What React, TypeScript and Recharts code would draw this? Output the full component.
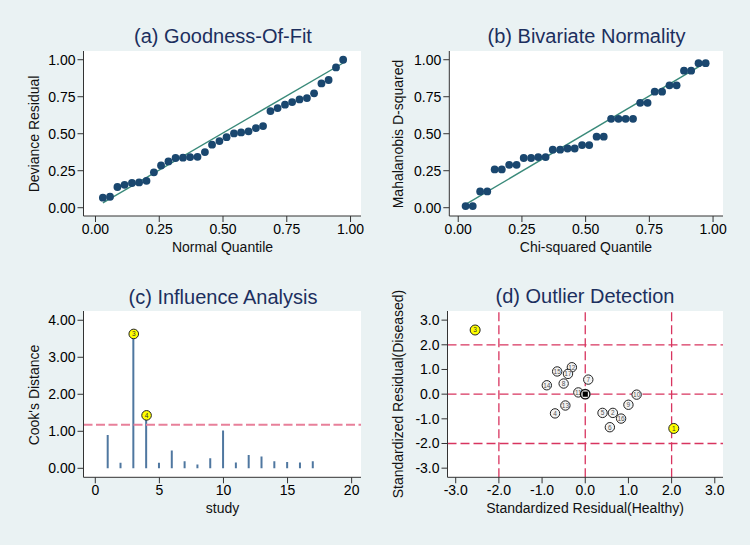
import React from 'react';
import {
  ScatterChart,
  ComposedChart,
  Scatter,
  Bar,
  XAxis,
  YAxis,
  ReferenceLine,
  CartesianGrid,
} from 'recharts';

// ---------- data ----------
// (a) & (b): plotting positions (quantiles)
const quantiles = [
  0.029, 0.057, 0.086, 0.114, 0.143, 0.171, 0.2, 0.229, 0.257, 0.286, 0.314, 0.343,
  0.371, 0.4, 0.429, 0.457, 0.486, 0.514, 0.543, 0.571, 0.6, 0.629, 0.657, 0.686,
  0.714, 0.743, 0.771, 0.8, 0.829, 0.857, 0.886, 0.914, 0.943, 0.971,
];
const devianceResidual = [
  0.068, 0.074, 0.14, 0.155, 0.167, 0.171, 0.182, 0.239, 0.286, 0.313, 0.336, 0.338,
  0.342, 0.344, 0.376, 0.426, 0.45, 0.477, 0.502, 0.509, 0.516, 0.538, 0.552, 0.653,
  0.673, 0.696, 0.714, 0.732, 0.741, 0.773, 0.84, 0.863, 0.948, 1.0,
];
const fitLineA = [
  { x: 0.029, y: 0.032 },
  { x: 0.971, y: 0.978 },
];
const mahalanobisD2 = [
  0.011, 0.011, 0.11, 0.11, 0.259, 0.259, 0.29, 0.29, 0.336, 0.336, 0.342, 0.342,
  0.392, 0.392, 0.4, 0.4, 0.423, 0.423, 0.48, 0.48, 0.601, 0.601, 0.601, 0.601,
  0.709, 0.709, 0.784, 0.784, 0.827, 0.827, 0.926, 0.926, 0.977, 0.977,
];
const fitLineB = [
  { x: 0.029, y: 0.022 },
  { x: 0.971, y: 0.98 },
];

// (c) influence analysis
const studies = [1, 2, 3, 4, 5, 6, 7, 8, 9, 10, 11, 12, 13, 14, 15, 16, 17];
const cooksDistance = [
  0.9, 0.15, 3.63, 1.43, 0.15, 0.48, 0.19, 0.1, 0.27, 1.02, 0.16, 0.36, 0.32, 0.19,
  0.17, 0.16, 0.19,
];
const influentialStudies = [3, 4];
const cooksThreshold = 1.18;

// (d) outlier detection
const residualHealthy = [
  2.05, 0.64, -2.55, -0.7, 0.4, 0.57, 0.07, -0.5, 1.0, 1.19, -0.16, -0.31, -0.46,
  -0.89, -0.65, 0.83, -0.4,
];
const residualDiseased = [
  -1.39, -0.76, 2.6, -0.78, -0.76, -1.34, 0.59, 0.43, -0.43, -0.02, 0.07, 1.09, -0.46,
  0.36, 0.92, -0.99, 0.82,
];
const outlierStudies = [1, 3];
const summaryPoint = [{ x: 0, y: 0 }];
const cutoffs = [2, 0, -2];
const residExtent = [-3.37, 3.37];
const healthyExtent = [-3.19, 3.19];

// tick labels
const unitTicks = [0, 0.25, 0.5, 0.75, 1];
const cookYTicks = [0, 1, 2, 3, 4];
const studyTicks = [0, 5, 10, 15, 20];
const residTicks = [-3, -2, -1, 0, 1, 2, 3];

// ---------- derived tables ----------
const dataA = quantiles.map((q, i) => ({ x: q, y: devianceResidual[i] }));
const dataB = quantiles.map((q, i) => ({ x: q, y: mahalanobisD2[i] }));
const dataC = studies.map((s, i) => ({ study: s, cook: cooksDistance[i] }));
const dataCHighlight = dataC.filter((d) => influentialStudies.includes(d.study));
const dataD = studies.map((s, i) => ({ x: residualHealthy[i], y: residualDiseased[i], id: s }));
const dataDNormal = dataD.filter((d) => !outlierStudies.includes(d.id));
const dataDOutlier = dataD.filter((d) => outlierStudies.includes(d.id));

// ---------- styles ----------
const FONT = '"Liberation Sans", Arial, Helvetica, sans-serif';
const BG = '#eaf2f3';
const TITLE_COLOR = '#1c2f5e';
const NAVY = '#1a476f';
const FIT = '#3a8a7a';
const AXIS = '#333333';
const TEXT = '#000000';
const CUT = '#d8345f';

const axisLine = { stroke: AXIS, strokeWidth: 1 };
const tickLine = { stroke: AXIS, strokeWidth: 1 };
const tickFont = { fontSize: 14, fontFamily: FONT, fill: TEXT };

const f2 = (v: number) => v.toFixed(2);
const f1 = (v: number) => v.toFixed(1);
const f0 = (v: number) => String(v);

const makeXTick = (fmt: (v: number) => string) => (p: any) => (
  <text
    x={p.x}
    y={p.y}
    dy="0.71em"
    textAnchor="middle"
    style={{ fontSize: '14px', fontFamily: FONT, fill: TEXT }}
  >
    {fmt(p.payload.value)}
  </text>
);
const makeYTick = (fmt: (v: number) => string) => (p: any) => (
  <text
    x={p.x}
    y={p.y}
    dy="0.355em"
    textAnchor="end"
    style={{ fontSize: '14px', fontFamily: FONT, fill: TEXT }}
  >
    {fmt(p.payload.value)}
  </text>
);

const NavyDot = (p: any) =>
  p.cx == null ? null : <circle cx={p.cx} cy={p.cy} r={3.9} fill={NAVY} />;

const YellowMarker = (label: (p: any) => any, r: number) => (p: any) =>
  p.cx == null ? null : (
    <g>
      <circle cx={p.cx} cy={p.cy} r={r} fill="#ffff00" stroke="#222" strokeWidth={1} />
      <text
        x={p.cx}
        y={p.cy}
        textAnchor="middle"
        dominantBaseline="central"
        style={{ fontSize: '6.5px', fontFamily: FONT, fill: '#333' }}
      >
        {label(p)}
      </text>
    </g>
  );

const StudyMarker = (p: any) =>
  p.cx == null ? null : (
    <g>
      <circle cx={p.cx} cy={p.cy} r={4.7} fill="#f3f3f3" stroke="#222" strokeWidth={1} />
      <text
        x={p.cx}
        y={p.cy}
        textAnchor="middle"
        dominantBaseline="central"
        style={{ fontSize: '6.5px', fontFamily: FONT, fill: '#555' }}
      >
        {p.payload.id}
      </text>
    </g>
  );

const SummaryMarker = (p: any) =>
  p.cx == null ? null : (
    <g>
      <circle cx={p.cx} cy={p.cy} r={4.7} fill="#f3f3f3" stroke="#111" strokeWidth={1.4} />
      <rect x={p.cx - 2.6} y={p.cy - 2.6} width={5.2} height={5.2} fill="#000" />
    </g>
  );

const Txt = ({
  x,
  y,
  size,
  color,
  rotate,
  children,
}: {
  x: number;
  y: number;
  size: number;
  color: string;
  rotate?: boolean;
  children: React.ReactNode;
}) => (
  <div
    style={{
      position: 'absolute',
      left: x,
      top: y,
      transform: `translate(-50%, -50%)${rotate ? ' rotate(-90deg)' : ''}`,
      fontSize: size,
      color,
      lineHeight: 1,
      whiteSpace: 'nowrap',
      fontFamily: FONT,
    }}
  >
    {children}
  </div>
);

export default function App() {
  return (
    <div
      style={{
        position: 'absolute',
        left: 0,
        top: 0,
        width: 750,
        height: 545,
        background: BG,
        overflow: 'hidden',
        fontFamily: FONT,
        fontSize: 14,
      }}
    >
      {/* (a) */}
      <div style={{ position: 'absolute', left: 0, top: 0 }}>
        <ScatterChart width={375} height={270} margin={{ top: 51, right: 14, bottom: 0, left: 0 }}>
          <CartesianGrid fill="#ffffff" horizontal={false} vertical={false} />
          <XAxis
            type="number"
            dataKey="x"
            domain={[-0.047, 1.041]}
            ticks={unitTicks}
            interval={0}
            height={54}
            tickSize={6}
            tick={makeXTick(f2)}
            axisLine={axisLine}
            tickLine={tickLine}
            allowDataOverflow
            {...tickFont}
          />
          <YAxis
            type="number"
            dataKey="y"
            domain={[-0.056, 1.059]}
            ticks={unitTicks}
            interval={0}
            width={83.5}
            tickSize={6}
            tick={makeYTick(f2)}
            axisLine={axisLine}
            tickLine={tickLine}
            allowDataOverflow
            {...tickFont}
          />
          <Scatter data={dataA} shape={NavyDot} isAnimationActive={false} />
          <ReferenceLine segment={fitLineA} stroke={FIT} strokeWidth={1.4} ifOverflow="visible" />
        </ScatterChart>
      </div>

      {/* (b) */}
      <div style={{ position: 'absolute', left: 375, top: 0 }}>
        <ScatterChart width={375} height={270} margin={{ top: 51, right: 27, bottom: 0, left: 0 }}>
          <CartesianGrid fill="#ffffff" horizontal={false} vertical={false} />
          <XAxis
            type="number"
            dataKey="x"
            domain={[-0.035, 1.039]}
            ticks={unitTicks}
            interval={0}
            height={54}
            tickSize={6}
            tick={makeXTick(f2)}
            axisLine={axisLine}
            tickLine={tickLine}
            allowDataOverflow
            {...tickFont}
          />
          <YAxis
            type="number"
            dataKey="y"
            domain={[-0.056, 1.059]}
            ticks={unitTicks}
            interval={0}
            width={74.3}
            tickSize={6}
            tick={makeYTick(f2)}
            axisLine={axisLine}
            tickLine={tickLine}
            allowDataOverflow
            {...tickFont}
          />
          <Scatter data={dataB} shape={NavyDot} isAnimationActive={false} />
          <ReferenceLine segment={fitLineB} stroke={FIT} strokeWidth={1.4} ifOverflow="visible" />
        </ScatterChart>
      </div>

      {/* (c) */}
      <div style={{ position: 'absolute', left: 0, top: 270 }}>
        <ComposedChart
          width={375}
          height={275}
          data={dataC}
          margin={{ top: 41, right: 14, bottom: 0, left: 0 }}
        >
          <CartesianGrid fill="#ffffff" horizontal={false} vertical={false} />
          <XAxis
            type="number"
            dataKey="study"
            domain={[-0.92, 20.73]}
            ticks={studyTicks}
            interval={0}
            height={67.7}
            tickSize={6}
            tick={makeXTick(f0)}
            axisLine={axisLine}
            tickLine={tickLine}
            allowDataOverflow
            {...tickFont}
          />
          <YAxis
            type="number"
            domain={[-0.243, 4.25]}
            ticks={cookYTicks}
            interval={0}
            width={83.5}
            tickSize={6}
            tick={makeYTick(f2)}
            axisLine={axisLine}
            tickLine={tickLine}
            allowDataOverflow
            {...tickFont}
          />
          <ReferenceLine
            y={cooksThreshold}
            stroke="#e8809a"
            strokeWidth={2}
            strokeDasharray="9 3.5"
          />
          <Bar dataKey="cook" barSize={2} fill="#4f77a0" isAnimationActive={false} />
          <Scatter
            data={dataCHighlight}
            dataKey="cook"
            shape={YellowMarker((p) => p.payload.study, 4.8)}
            isAnimationActive={false}
          />
        </ComposedChart>
      </div>

      {/* (d) */}
      <div style={{ position: 'absolute', left: 375, top: 270 }}>
        <ScatterChart width={375} height={275} margin={{ top: 41, right: 27, bottom: 0, left: 0 }}>
          <CartesianGrid fill="#ffffff" horizontal={false} vertical={false} />
          <XAxis
            type="number"
            dataKey="x"
            domain={healthyExtent}
            ticks={residTicks}
            interval={0}
            height={67.7}
            tickSize={6}
            tick={makeXTick(f1)}
            axisLine={axisLine}
            tickLine={tickLine}
            allowDataOverflow
            {...tickFont}
          />
          <YAxis
            type="number"
            dataKey="y"
            domain={residExtent}
            ticks={residTicks}
            interval={0}
            width={72.5}
            tickSize={6}
            tick={makeYTick(f1)}
            axisLine={axisLine}
            tickLine={tickLine}
            allowDataOverflow
            {...tickFont}
          />
          {cutoffs.map((c) => (
            <ReferenceLine
              key={'vertical-cut-' + c}
              x={c}
              stroke={CUT}
              strokeWidth={1.3}
              strokeDasharray="9 4"
            />
          ))}
          {cutoffs.map((c) => (
            <ReferenceLine
              key={'horizontal-cut-' + c}
              y={c}
              stroke={CUT}
              strokeWidth={1.3}
              strokeDasharray="9 4"
            />
          ))}
          <Scatter data={dataDNormal} shape={StudyMarker} isAnimationActive={false} />
          <Scatter data={summaryPoint} shape={SummaryMarker} isAnimationActive={false} />
          <Scatter
            data={dataDOutlier}
            shape={YellowMarker((p) => p.payload.id, 5)}
            isAnimationActive={false}
          />
        </ScatterChart>
      </div>

      {/* titles */}
      <Txt x={223} y={36} size={20} color={TITLE_COLOR}>(a) Goodness-Of-Fit</Txt>
      <Txt x={586.5} y={36} size={20} color={TITLE_COLOR}>(b) Bivariate Normality</Txt>
      <Txt x={223} y={296.5} size={20} color={TITLE_COLOR}>(c) Influence Analysis</Txt>
      <Txt x={585} y={296} size={20} color={TITLE_COLOR}>(d) Outlier Detection</Txt>

      {/* axis titles */}
      <Txt x={222.5} y={246.5} size={14} color="#111">Normal Quantile</Txt>
      <Txt x={34.3} y={134} size={14} color="#111" rotate>Deviance Residual</Txt>
      <Txt x={586} y={246.5} size={14} color="#111">Chi-squared Quantile</Txt>
      <Txt x={398.3} y={134} size={14} color="#111" rotate>Mahalanobis D-squared</Txt>
      <Txt x={222.5} y={507.5} size={14} color="#111">study</Txt>
      <Txt x={34.3} y={394.5} size={14} color="#111" rotate>Cook's Distance</Txt>
      <Txt x={585} y={507.5} size={14} color="#111">Standardized Residual(Healthy)</Txt>
      <Txt x={398} y={394} size={14} color="#111" rotate>Standardized Residual(Diseased)</Txt>
    </div>
  );
}
